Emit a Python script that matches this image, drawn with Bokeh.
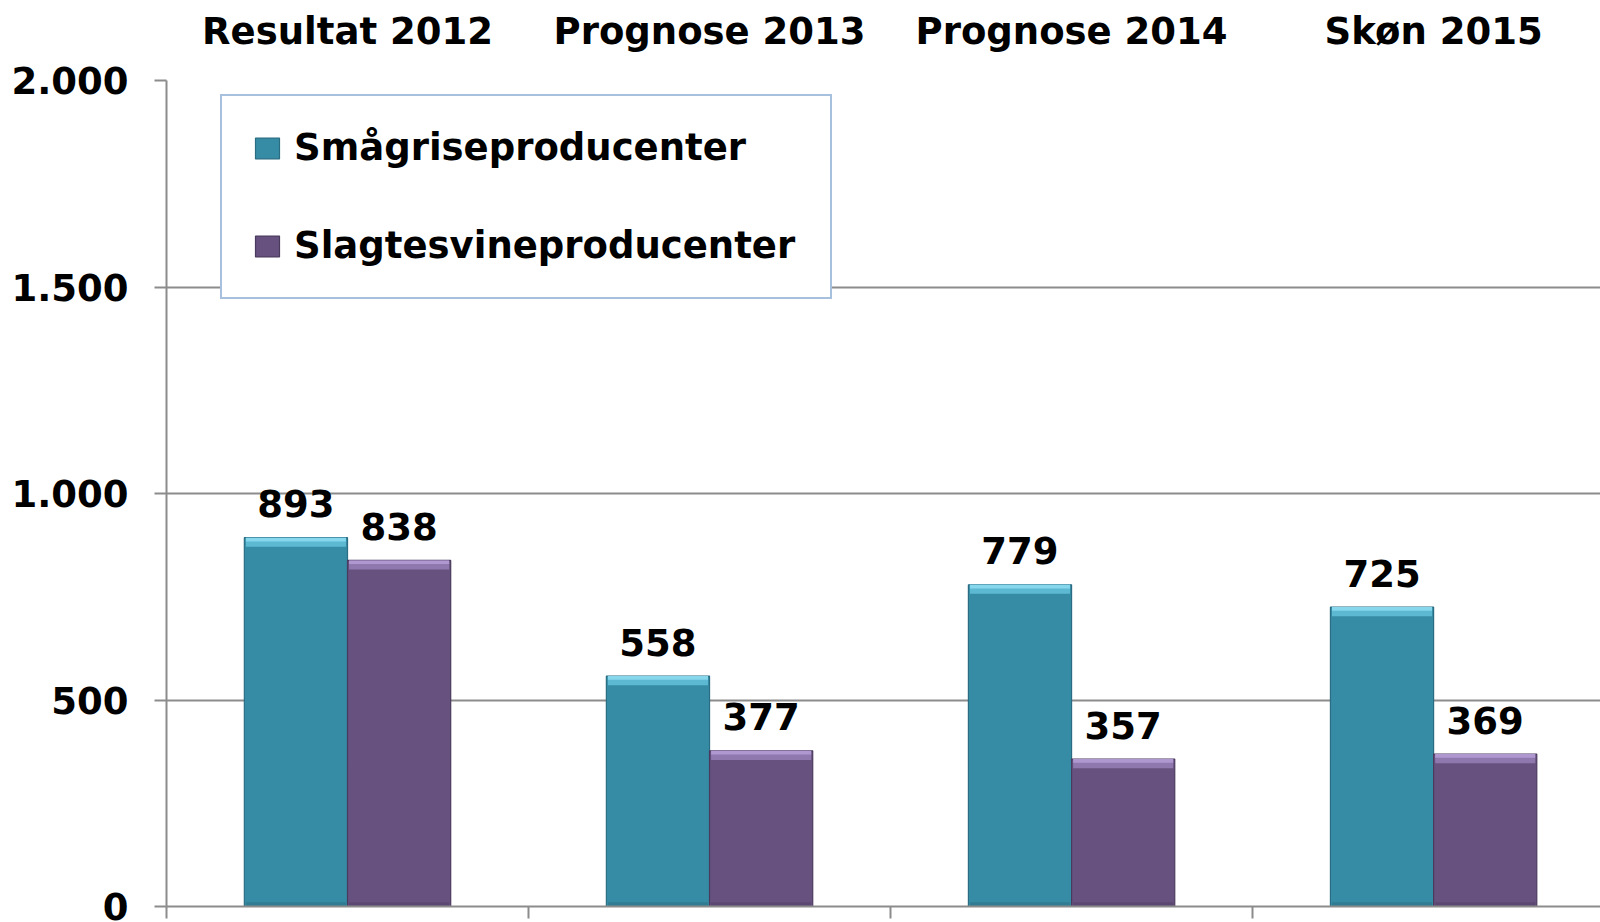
from bokeh.plotting import figure
from bokeh.models import (ColumnDataSource, Range1d, LinearAxis, FixedTicker,
                          Legend, LegendItem, CustomLabelingPolicy)
from bokeh.transform import dodge
from bokeh.core.properties import value
from bokeh.embed import file_html
from bokeh.resources import INLINE

# ---- data ----
categories = ["Resultat 2012", "Prognose 2013", "Prognose 2014", "Skøn 2015"]
smagrise = [893, 558, 779, 725]
slagtesvin = [838, 377, 357, 369]
series_names = ["Smågriseproducenter", "Slagtesvineproducenter"]
y_ticks = [0, 500, 1000, 1500, 2000]
y_tick_labels = ["0", "500", "1.000", "1.500", "2.000"]

# ---- style ----
FONT = "DejaVu Sans"
FS = "37px"
GRID = "#8C8C8C"
TEAL, TEAL_HI, TEAL_HI2, TEAL_EDGE, TEAL_LO = "#378CA5", "#5DB8D2", "#86D6EC", "#2A6D82", "#307C93"
PURP, PURP_HI, PURP_HI2, PURP_EDGE, PURP_LO = "#67527F", "#8E78AE", "#AE98CF", "#4A3A5E", "#5B4872"
BAR_W = 0.285
OFF = BAR_W / 2
BEVEL = 22   # thickness of top highlight, data units
BEVEL2 = 9   # thickness of brightest top rim
FOOT = 10    # thickness of darker foot

pos = [i + 0.5 for i in range(len(categories))]
src = ColumnDataSource(dict(
    x=pos,
    a=smagrise, b=slagtesvin,
    a_bev=[v - BEVEL for v in smagrise],
    b_bev=[v - BEVEL for v in slagtesvin],
    a_bev2=[v - BEVEL2 for v in smagrise],
    b_bev2=[v - BEVEL2 for v in slagtesvin],
    foot=[FOOT] * len(categories),
    a_lbl=[str(v) for v in smagrise],
    b_lbl=[str(v) for v in slagtesvin],
))

p = figure(width=1600, height=922,
           x_range=Range1d(0, 3.961), y_range=Range1d(0, 2000),
           output_backend="svg", toolbar_location=None,
           x_axis_location=None, y_axis_location="left",
           min_border_left=166, min_border_right=0,
           min_border_top=80, min_border_bottom=12)
p.outline_line_color = None
p.background_fill_color = "white"

# y axis
ya = p.yaxis[0]
ya.ticker = FixedTicker(ticks=y_ticks)
ya.major_label_overrides = {t: l for t, l in zip(y_ticks, y_tick_labels)}
ya.axis_line_color = GRID
ya.axis_line_width = 2
ya.major_tick_line_color = GRID
ya.major_tick_line_width = 2
ya.major_tick_out = 12
ya.major_tick_in = 0
ya.minor_tick_line_color = None
ya.major_label_text_font = FONT
ya.major_label_text_font_size = FS
ya.major_label_text_font_style = "bold"
ya.major_label_text_color = "black"
ya.major_label_standoff = 26

p.ygrid.grid_line_color = GRID
p.ygrid.grid_line_width = 2
p.xgrid.visible = False

# top axis with category labels
top = LinearAxis(ticker=FixedTicker(ticks=pos),
                 major_label_overrides={x: c for x, c in zip(pos, categories)},
                 axis_line_color=None, major_tick_line_color=None,
                 minor_tick_line_color=None,
                 major_label_text_font=FONT, major_label_text_font_size=FS,
                 major_label_text_font_style="bold",
                 major_label_text_color="black",
                 major_label_standoff=22)
p.add_layout(top, "above")

# bottom axis: category separator ticks only (no labels)
no_labels = CustomLabelingPolicy(
    code="for (const i of Array.from(indices)) { indices.unset(i) } return indices")
bot = LinearAxis(ticker=FixedTicker(ticks=list(range(len(categories) + 1))),
                 axis_line_color=GRID, axis_line_width=2,
                 major_tick_line_color=GRID, major_tick_line_width=2,
                 major_tick_out=12, major_tick_in=0,
                 minor_tick_line_color=None,
                 major_label_policy=no_labels, major_label_standoff=0,
                 major_label_text_font_size="1px")
p.add_layout(bot, "below")

# bars
def bars(off, top_col, bev, bev2, fill, hi, hi2, edge, lo):
    r = p.vbar(x=dodge("x", off), top=top_col, width=BAR_W, source=src,
               fill_color=fill, line_color=edge, line_width=1.2)
    p.vbar(x=dodge("x", off), top="foot", bottom=0, width=BAR_W * 0.97, source=src,
           fill_color=lo, line_color=None)
    p.vbar(x=dodge("x", off), top=top_col, bottom=bev, width=BAR_W * 0.97, source=src,
           fill_color=hi, line_color=None)
    p.vbar(x=dodge("x", off), top=top_col, bottom=bev2, width=BAR_W * 0.97, source=src,
           fill_color=hi2, line_color=None)
    return r

ra = bars(-OFF, "a", "a_bev", "a_bev2", TEAL, TEAL_HI, TEAL_HI2, TEAL_EDGE, TEAL_LO)
rb = bars(OFF, "b", "b_bev", "b_bev2", PURP, PURP_HI, PURP_HI2, PURP_EDGE, PURP_LO)

# value labels
for col, lbl, off in (("a", "a_lbl", -OFF), ("b", "b_lbl", OFF)):
    p.text(x=dodge("x", off), y=col, text=lbl, source=src,
           text_align="center", text_baseline="middle", y_offset=-34,
           text_font=value(FONT), text_font_size=FS, text_font_style="bold",
           text_color="black")

legend = Legend(items=[LegendItem(label=series_names[0], renderers=[ra]),
                       LegendItem(label=series_names[1], renderers=[rb])],
                location=(54, 607), orientation="vertical",
                border_line_color="#4F81BD", border_line_width=2,
                background_fill_color="white", background_fill_alpha=1,
                padding=30, spacing=55, margin=0,
                glyph_width=30, glyph_height=26, label_standoff=12,
                label_width=506,
                label_text_font=FONT, label_text_font_size=FS,
                label_text_font_style="bold", label_text_color="black")
p.add_layout(legend, "center")

open("out.html", "w").write(file_html(p, INLINE))
